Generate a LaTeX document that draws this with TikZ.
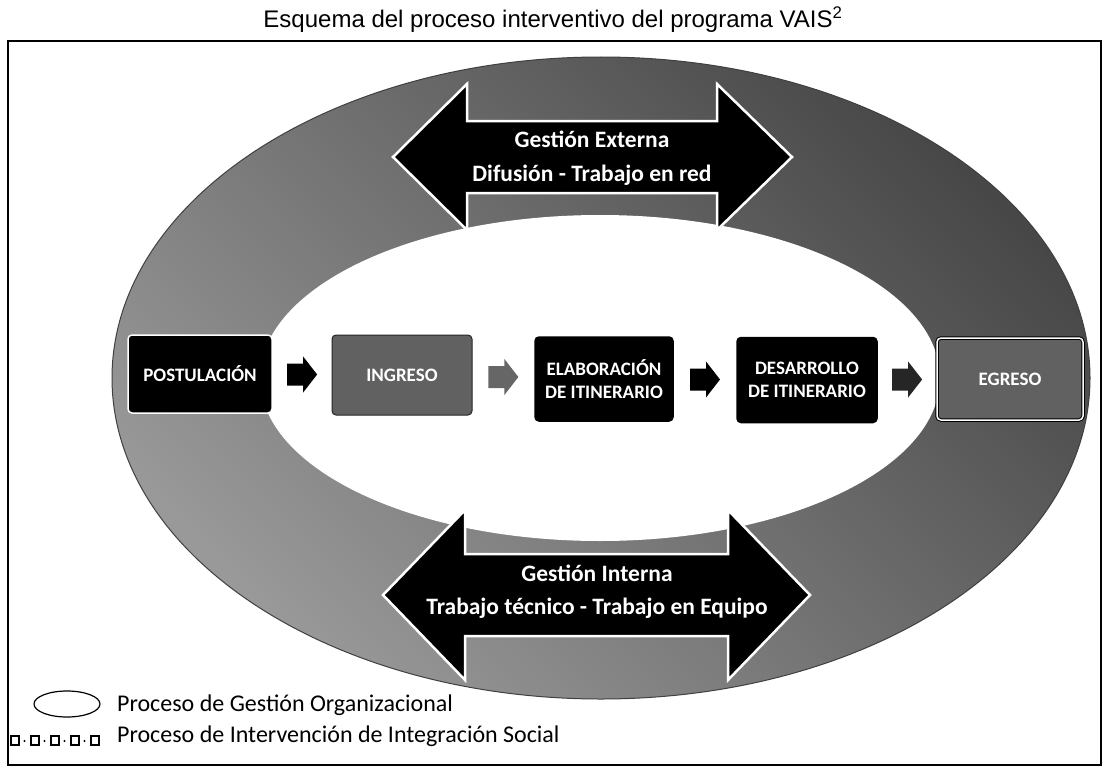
\documentclass[tikz,border=0pt]{standalone}
\usepackage{fontspec}
\setmainfont{Carlito}
\newfontfamily\arialfont{Liberation Sans}
\usetikzlibrary{calc}
\tikzset{
  procbox/.style={rounded corners=4pt, text=white, align=center, inner sep=0pt,
    font=\bfseries\fontsize{19}{23}\selectfont},
  darkbox/.style={procbox, fill=black, draw=white, line width=1.5pt},
  greybox/.style={procbox, fill=black!62, draw=black!85, line width=1pt},
  bigarrow/.style={fill=black, draw=white, line width=2.5pt, line join=miter},
  arrowtext/.style={text=white, font=\bfseries\fontsize{23.5}{27}\selectfont, inner sep=0pt},
  legendtext/.style={anchor=west, font=\fontsize{24}{28}\selectfont, inner sep=0pt},
}
\begin{document}
\begin{tikzpicture}[x=1pt,y=-1pt]
\useasboundingbox (0,0) rectangle (1106,768);
\fill[white] (0,0) rectangle (1106,768);

% title and frame
\node[font=\arialfont\fontsize{24}{28}\selectfont, inner sep=0pt] (title) at (553,20)
  {Esquema del proceso interventivo del programa VAIS\textsuperscript{2}};
\draw[line width=1.2pt] (8,41) rectangle (1101,765);

% ring
\shade[top color=black!72, bottom color=black!40, shading angle=-45]
  (601,378) ellipse [x radius=489pt, y radius=321pt];
\draw[black!75, line width=1pt] (601,378) ellipse [x radius=489pt, y radius=321pt];
\fill[white] (600,378) ellipse [x radius=340pt, y radius=163pt];

% big double arrows
\draw[bigarrow] (393,157) -- (467,84) -- (467,121) -- (717,121) -- (717,84) -- (792,157)
  -- (717,230) -- (717,193) -- (467,193) -- (467,230) -- cycle;
\node[arrowtext] (ext1) at (592,139) {Gestión Externa};
\node[arrowtext] (ext2) at (592,175) {Difusión - Trabajo en red};

\draw[bigarrow] (383,595) -- (465,510) -- (465,554) -- (728,554) -- (728,510) -- (810,595)
  -- (728,680) -- (728,636) -- (465,636) -- (465,680) -- cycle;
\node[arrowtext] (int1) at (597,573) {Gestión Interna};
\node[arrowtext] (int2) at (597,608) {Trabajo técnico - Trabajo en Equipo};

% process boxes
\node[darkbox, minimum width=144pt, minimum height=78pt] (post) at (200,374) {POSTULACIÓN};
\node[greybox, minimum width=140pt, minimum height=80pt] (ing) at (402,375) {INGRESO};
\node[darkbox, draw=black, minimum width=138pt, minimum height=84pt] (elab) at (604,379) {ELABORACIÓN\\DE ITINERARIO};
\node[darkbox, draw=black, minimum width=140pt, minimum height=85pt] (des) at (807,380) {DESARROLLO\\DE ITINERARIO};
\node[procbox, fill=black!62, draw=black, double=white, double distance=1.5pt, line width=1pt,
  minimum width=146pt, minimum height=82pt] (egr) at (1010,379) {EGRESO};

% flow arrows (block arrows between the boxes)
\coordinate (c1) at ($(post.east)!0.5!(ing.west)$);
\coordinate (c2) at ($(ing.east)!0.5!(elab.west)$);
\coordinate (c3) at ($(elab.east)!0.5!(des.west)$);
\coordinate (c4) at ($(des.east)!0.5!(egr.west)$);
\foreach \c/\col in {c1/black, c2/black!60, c3/black, c4/black!85}{
  \fill[\col, shift={(\c)}] (-15,-11) -- (1,-11) -- (1,-18) -- (15,0) -- (1,18) -- (1,11) -- (-15,11) -- cycle;
}

% legend
\draw[line width=1.2pt] (67,704) ellipse [x radius=33pt, y radius=13pt];
\foreach \i in {0,...,4}{
  \draw[line width=1.1pt] (11+\i*20,736) rectangle +(8,9);
}
\foreach \i in {0,...,3}{
  \fill (24.5+\i*20,741) circle (1.1pt);
}
\node[legendtext] (leg1) at (117,705) {Proceso de Gestión Organizacional};
\node[legendtext] (leg2) at (117,736) {Proceso de Intervención de Integración Social};
\end{tikzpicture}
\end{document}
